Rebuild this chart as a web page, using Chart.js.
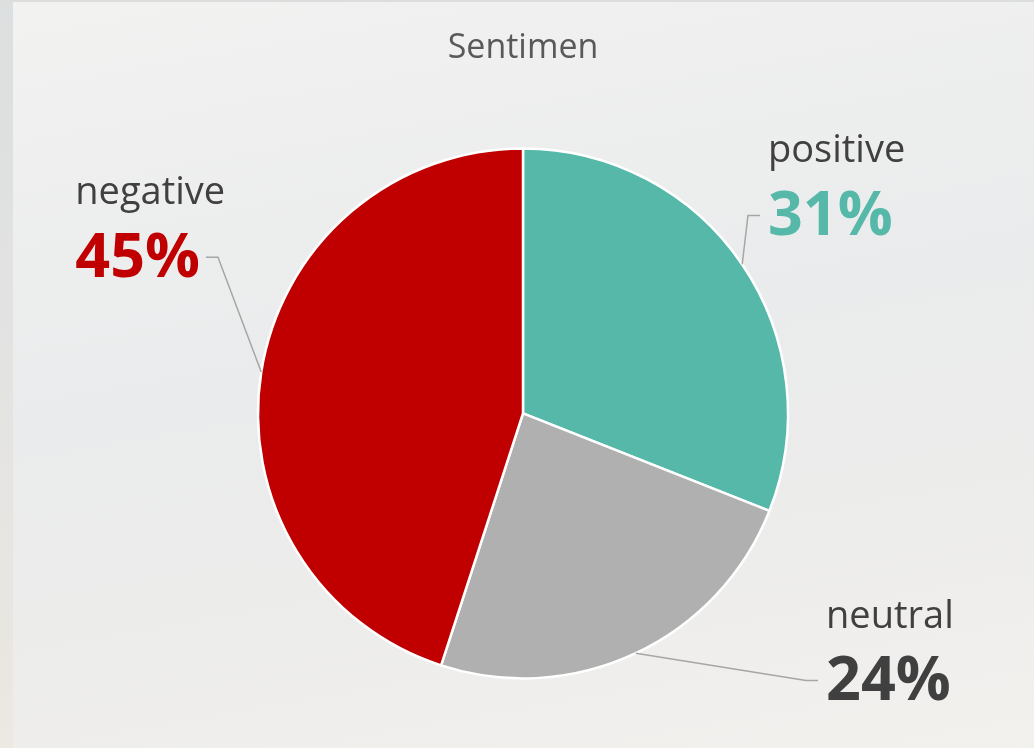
<!DOCTYPE html>
<html>
<head>
<meta charset="utf-8">
<script src="https://cdn.jsdelivr.net/npm/chart.js@4/dist/chart.umd.min.js"></script>
<style>
  html, body { margin: 0; padding: 0; width: 1034px; height: 748px; overflow: hidden; }
  #bg { position: absolute; left: 0; top: 0; width: 1034px; height: 748px;
        background: linear-gradient(180deg, #dcdddd 0px, #dcdddd 2px, transparent 2px),
                    linear-gradient(90deg, #dfe0e0 0px, #e6e5e2 13px, transparent 13px),
                    linear-gradient(170deg, #f2f2f1 0%, #eaebec 45%, #ececeb 70%, #f3f1ee 100%); }
  #strip { position: absolute; left: 0; top: 2px; width: 13px; height: 746px;
           background: linear-gradient(180deg, #dcdfdf 0%, #e3e3e2 50%, #ece8e2 100%); }
  #wrap { position: absolute; left: 0; top: 0; width: 1034px; height: 748px; }
</style>
</head>
<body>
<div id="bg"></div>
<div id="strip"></div>
<div id="wrap"><canvas id="c" width="1034" height="748"></canvas></div>
<script>
const titleText = 'Sentimen';
const categories = ['positive', 'neutral', 'negative'];
const values = [31, 24, 45];

const sliceColors = ['#55b8a9', '#b0b0b0', '#c00000'];
const percentColors = ['#55b8a9', '#404040', '#c00000'];
// label elbow positions relative to pie centre, in units of radius
const labelAnchors = [
  { dx: 0.849, dy: -0.747, side: 'right' },
  { dx: 1.068, dy: 1.008, side: 'right' },
  { dx: -1.151, dy: -0.589, side: 'left' }
];

const FONT = '"Open Sans", "Noto Sans", sans-serif';

const labelPlugin = {
  id: 'pieLabels',
  afterDatasetsDraw(chart) {
    const ctx = chart.ctx;
    const meta = chart.getDatasetMeta(0);
    const total = values.reduce((a, b) => a + b, 0);
    meta.data.forEach((arc, i) => {
      const p = arc.getProps(['x', 'y', 'startAngle', 'endAngle', 'outerRadius'], true);
      const mid = (p.startAngle + p.endAngle) / 2;
      const r = p.outerRadius;
      const ex = p.x + Math.cos(mid) * r;
      const ey = p.y + Math.sin(mid) * r;
      const a = labelAnchors[i];
      const bx = p.x + a.dx * r;
      const by = p.y + a.dy * r;
      const dir = a.side === 'right' ? 1 : -1;
      const segEnd = bx + dir * 12;
      ctx.save();
      ctx.strokeStyle = '#a6a6a6';
      ctx.lineWidth = 1.5;
      ctx.beginPath();
      ctx.moveTo(ex, ey);
      ctx.lineTo(bx, by);
      ctx.lineTo(segEnd, by);
      ctx.stroke();

      const pct = Math.round(values[i] / total * 100) + '%';
      ctx.font = 'bold 61px ' + FONT;
      const pw = ctx.measureText(pct).width;
      const left = a.side === 'right' ? segEnd + 8 : segEnd - 6 - pw;
      ctx.textBaseline = 'middle';
      ctx.textAlign = 'left';
      ctx.fillStyle = percentColors[i];
      ctx.fillText(pct, left, by + 2);

      ctx.font = '38px ' + FONT;
      ctx.fillStyle = '#404040';
      ctx.textBaseline = 'alphabetic';
      ctx.fillText(categories[i], left, by - 53);
      ctx.restore();
    });
  }
};

new Chart(document.getElementById('c'), {
  type: 'pie',
  data: {
    labels: categories,
    datasets: [{
      data: values,
      backgroundColor: sliceColors,
      borderColor: '#ffffff',
      borderWidth: 2.5,
      radius: 265
    }]
  },
  options: {
    responsive: false,
    animation: false,
    layout: { padding: { top: 28, bottom: 70, left: 258, right: 246 } },
    plugins: {
      legend: { display: false },
      tooltip: { enabled: false },
      title: {
        display: true,
        text: titleText,
        color: '#595959',
        font: { family: FONT, size: 34, weight: 'normal' },
        padding: { top: 0, bottom: 80 }
      }
    }
  },
  plugins: [labelPlugin]
});
</script>
</body>
</html>
